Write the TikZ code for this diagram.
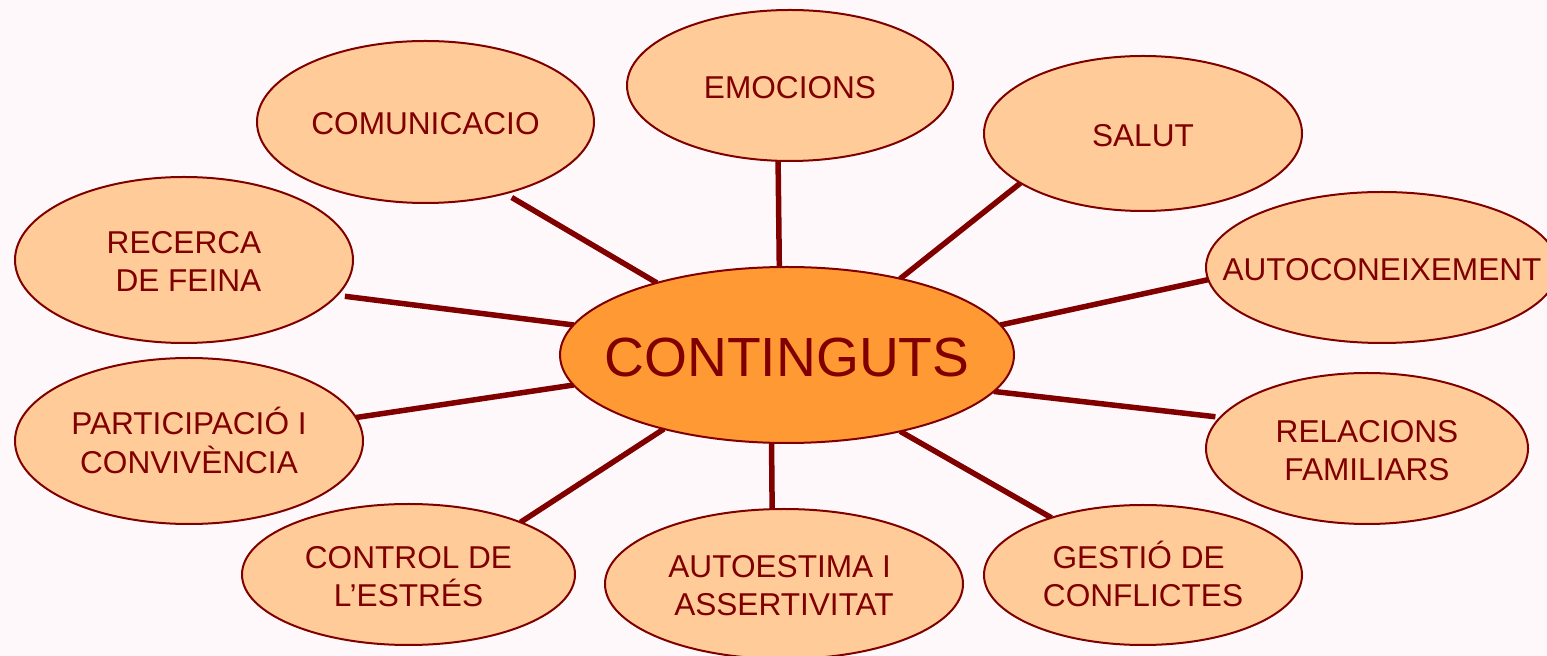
\documentclass[tikz,border=0pt]{standalone}
\usepackage{fontspec}
\setmainfont{Liberation Sans}
\usetikzlibrary{shapes.geometric}
\definecolor{bgc}{HTML}{FFF8FB}
\definecolor{dred}{HTML}{800000}
\definecolor{peach}{HTML}{FFCC99}
\definecolor{orng}{HTML}{FF9933}
\pgfdeclarelayer{bglayer}
\pgfdeclarelayer{linelayer}
\pgfsetlayers{bglayer,linelayer,main}
\newcommand\oneline[1]{\makebox[0pt]{\smash{\raisebox{-6.3pt}{#1}}}}
\newcommand\twoline[2]{\makebox[0pt]{\smash{\raisebox{3.2pt}{\begin{tabular}[t]{@{}c@{}}#1\\#2\end{tabular}}}}}
\tikzset{
  sub/.style={ellipse, draw=dred, line width=1pt, fill=peach, inner sep=0pt, outer sep=0pt,
    text=dred, font=\fontsize{15.8}{19}\selectfont},
  hub/.style={ellipse, draw=dred, line width=1pt, fill=orng, inner sep=0pt, outer sep=0pt,
    text=dred, font=\fontsize{27.6}{33}\selectfont},
  conn/.style={draw=dred, line width=2.75pt}
}
\begin{document}
\begin{tikzpicture}[x=0.5pt, y=-0.5pt]
\useasboundingbox (0,0) rectangle (1547,656);
\begin{pgfonlayer}{bglayer}
  \fill[bgc] (0,0) rectangle (1547,656);
\end{pgfonlayer}

\node[hub, minimum width=227pt, minimum height=88pt] (hub) at (787,355)
  {\makebox[0pt]{\smash{\raisebox{-10.55pt}{CONTINGUTS}}}};
\node[sub, minimum width=163pt, minimum height=75.5pt] (emo) at (790,85.5) {\oneline{EMOCIONS}};
\node[sub, minimum width=168.5pt, minimum height=81pt] (com) at (425.5,122) {\oneline{COMUNICACIO}};
\node[sub, minimum width=159pt, minimum height=77.5pt] (sal) at (1143,133.5) {\oneline{SALUT}};
\node[sub, minimum width=176pt, minimum height=75.5pt] (aut) at (1382,267.5) {\oneline{AUTOCONEIXEMENT}};
\node[sub, minimum width=169pt, minimum height=83pt] (rec) at (184,260) {\twoline{RECERCA}{\hspace*{.278em}DE FEINA}};
\node[sub, minimum width=174pt, minimum height=83pt] (par) at (189,441) {\twoline{PARTICIPACIÓ I}{CONVIVÈNCIA}};
\node[sub, minimum width=161pt, minimum height=75.5pt] (rel) at (1367,448.5) {\twoline{RELACIONS}{FAMILIARS}};
\node[sub, minimum width=166.5pt, minimum height=70.5pt] (ctl) at (408.5,574.5) {\twoline{CONTROL DE}{L’ESTRÉS}};
\node[sub, minimum width=179pt, minimum height=75pt] (ast) at (784,584) {\twoline{AUTOESTIMA I\hspace*{.278em}}{ASSERTIVITAT}};
\node[sub, minimum width=159pt, minimum height=70pt] (ges) at (1143,575) {\twoline{GESTIÓ DE\hspace*{.278em}}{CONFLICTES}};

\begin{pgfonlayer}{linelayer}
  \draw[conn, shorten >=4pt] (hub.151.4) -- (com.318);
  \draw[conn] (hub.95.2) -- (emo.261.7);
  \draw[conn] (hub.34.6) -- (sal.202.2);
  \draw[conn] (hub.8.9) -- (aut.184.8);
  \draw[conn, shorten >=4pt] (hub.172.9) -- (rec.347.1);
  \draw[conn] (hub.188.5) -- (par.8.1);
  \draw[conn, shorten >=2.5pt] (hub.350.6) -- (rel.168.7);
  \draw[conn] (hub.211.2) -- (ctl.25.2);
  \draw[conn] (hub.260.3) -- (ast.99.2);
  \draw[conn] (hub.326.2) -- (ges.148.3);
\end{pgfonlayer}
\end{tikzpicture}
\end{document}
